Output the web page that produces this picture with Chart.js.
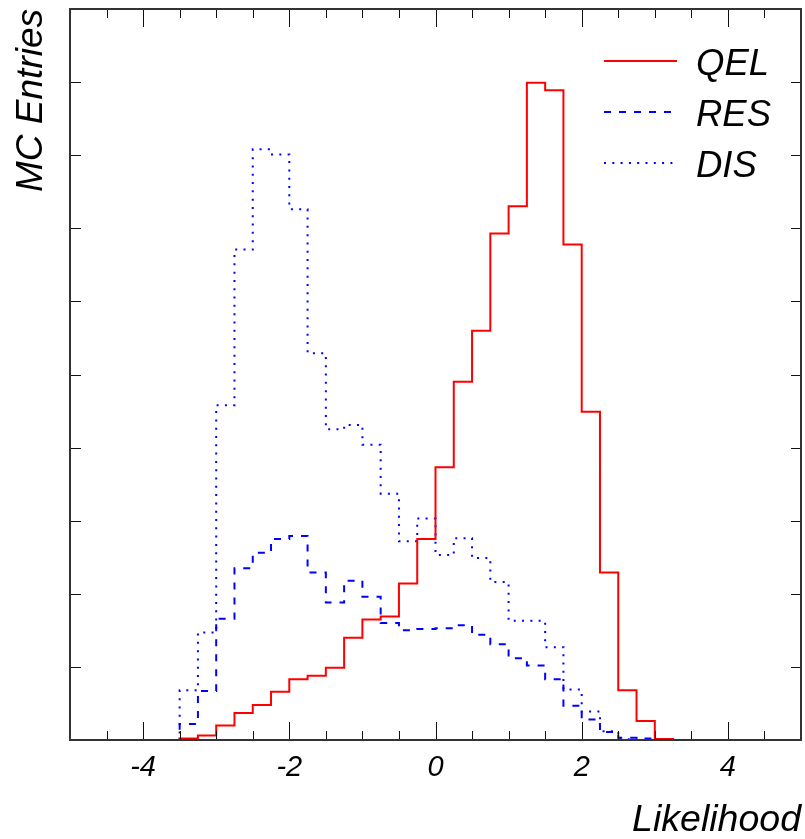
<!DOCTYPE html>
<html>
<head>
<meta charset="utf-8">
<script src="https://cdn.jsdelivr.net/npm/chart.js@4.4.0/dist/chart.umd.min.js"></script>
<style>
  html, body { margin: 0; padding: 0; background: #fff; overflow: hidden; }
  canvas { display: block; }
</style>
</head>
<body>
<canvas id="hist" width="805" height="839"></canvas>
<script>
// histogram binning: 40 bins of 0.25 from -5 to 5
var binLow = -5;
var binWidth = 0.25;

// bin contents (arbitrary units, one major y tick = 1)
var qel = [0, 0, 0, 0, 0, 0, 0.02, 0.06, 0.20, 0.37,
           0.48, 0.66, 0.83, 0.88, 0.99, 1.40, 1.65, 1.69, 2.14, 2.75,
           3.73, 4.90, 5.60, 6.93, 7.30, 8.99, 8.89, 6.78, 4.49, 2.29,
           0.68, 0.26, 0.014, 0, 0, 0, 0, 0, 0, 0];
var res = [0, 0, 0, 0, 0, 0, 0.22, 0.67, 1.66, 2.35,
           2.56, 2.75, 2.79, 2.29, 1.88, 2.18, 1.96, 1.60, 1.50, 1.52,
           1.53, 1.57, 1.44, 1.31, 1.12, 1.02, 0.83, 0.47, 0.28, 0.11,
           0.03, 0.02, 0, 0, 0, 0, 0, 0, 0, 0];
var dis = [0, 0, 0, 0, 0, 0, 0.68, 1.47, 4.58, 6.71,
           8.08, 8.01, 7.26, 5.29, 4.25, 4.31, 4.04, 3.37, 2.72, 3.03,
           2.53, 2.76, 2.49, 2.16, 1.63, 1.63, 1.27, 0.69, 0.39, 0.12,
           0.01, 0, 0, 0, 0, 0, 0, 0, 0, 0];

var xTickLabels = [-4, -2, 0, 2, 4];

var fontFam = '"Liberation Sans", Arial, Helvetica, sans-serif';

// turn bin contents into left-edge points (plus closing right edge) for a stepped line
function histPoints(vals) {
  var pts = [];
  for (var i = 0; i < vals.length; i++) {
    pts.push({x: binLow + i * binWidth, y: vals[i]});
  }
  pts.push({x: binLow + vals.length * binWidth, y: vals[vals.length - 1]});
  return pts;
}

// frame + inward ticks on all four sides (ROOT style)
var frameTicks = {
  id: 'frameTicks',
  afterDraw: function (chart) {
    var ctx = chart.ctx, a = chart.chartArea;
    var xs = chart.scales.x, ys = chart.scales.y;
    ctx.save();
    ctx.strokeStyle = '#111';
    ctx.lineWidth = 1;
    ctx.beginPath();
    xs.ticks.forEach(function (t) {
      var px = Math.round(xs.getPixelForValue(t.value)) + 0.5;
      var len = Math.abs(t.value % 2) < 1e-6 ? 18 : 9;
      ctx.moveTo(px, a.bottom); ctx.lineTo(px, a.bottom - len);
      ctx.moveTo(px, a.top); ctx.lineTo(px, a.top + len);
    });
    ys.ticks.forEach(function (t) {
      var py = Math.round(ys.getPixelForValue(t.value)) + 0.5;
      ctx.moveTo(a.left, py); ctx.lineTo(a.left + 11, py);
      ctx.moveTo(a.right, py); ctx.lineTo(a.right - 10, py);
    });
    ctx.stroke();
    ctx.strokeStyle = '#333';
    ctx.lineWidth = 2;
    ctx.strokeRect(a.left, a.top, a.right - a.left, a.bottom - a.top);
    ctx.restore();
  }
};

// legend in the upper right corner of the plot
var histLegend = {
  id: 'histLegend',
  afterDatasetsDraw: function (chart) {
    var ctx = chart.ctx;
    ctx.save();
    chart.data.datasets.forEach(function (ds, i) {
      var y = 61 + i * 51;
      ctx.strokeStyle = ds.borderColor;
      ctx.lineWidth = ds.borderWidth;
      ctx.setLineDash(ds.borderDash || []);
      ctx.beginPath();
      ctx.moveTo(604, y);
      ctx.lineTo(677, y);
      ctx.stroke();
      ctx.setLineDash([]);
      ctx.fillStyle = '#000';
      ctx.font = 'italic 36.5px ' + fontFam;
      ctx.textBaseline = 'alphabetic';
      ctx.textAlign = 'left';
      ctx.fillText(ds.label, 696, y + 13.5);
    });
    ctx.restore();
  }
};

new Chart(document.getElementById('hist'), {
  type: 'line',
  data: {
    datasets: [
      {label: 'QEL', data: histPoints(qel), borderColor: '#ff0000', borderWidth: 2, borderDash: []},
      {label: 'RES', data: histPoints(res), borderColor: '#0000ff', borderWidth: 2, borderDash: [7, 8]},
      {label: 'DIS', data: histPoints(dis), borderColor: '#0000ff', borderWidth: 2, borderDash: [2, 6.3]}
    ]
  },
  options: {
    responsive: false,
    animation: false,
    devicePixelRatio: 1,
    layout: {autoPadding: false, padding: {top: 9, right: 4, left: 0, bottom: 0}},
    datasets: {
      line: {stepped: 'before', pointRadius: 0, fill: false, clip: false, borderCapStyle: 'butt'}
    },
    plugins: {
      legend: {display: false},
      tooltip: {enabled: false}
    },
    scales: {
      x: {
        type: 'linear',
        min: -5,
        max: 5,
        grid: {display: false, drawTicks: false},
        border: {display: false},
        ticks: {
          stepSize: 0.5,
          autoSkip: false,
          maxRotation: 0,
          padding: 11,
          color: '#000',
          font: {family: fontFam, size: 29, style: 'italic'},
          callback: function (v) {
            return xTickLabels.indexOf(v) >= 0 ? String(v) : '';
          }
        },
        title: {
          display: true,
          text: 'Likelihood',
          align: 'end',
          color: '#000',
          padding: {top: 0, bottom: 0},
          font: {family: fontFam, size: 37.5, style: 'italic', lineHeight: 1}
        },
        afterFit: function (s) {
          s.height = 99;
          // empty edge labels: no extra side padding wanted
          s.paddingLeft = 0;
          s.paddingRight = 0;
        }
      },
      y: {
        min: 0,
        max: 10,
        grid: {display: false, drawTicks: false},
        border: {display: false},
        ticks: {display: false, stepSize: 1},
        title: {
          display: true,
          text: 'MC Entries',
          align: 'end',
          color: '#000',
          padding: {top: 13, bottom: 0},
          font: {family: fontFam, size: 37, style: 'italic', lineHeight: 1}
        },
        afterFit: function (s) { s.width = 70; }
      }
    }
  },
  plugins: [frameTicks, histLegend]
});
</script>
</body>
</html>
